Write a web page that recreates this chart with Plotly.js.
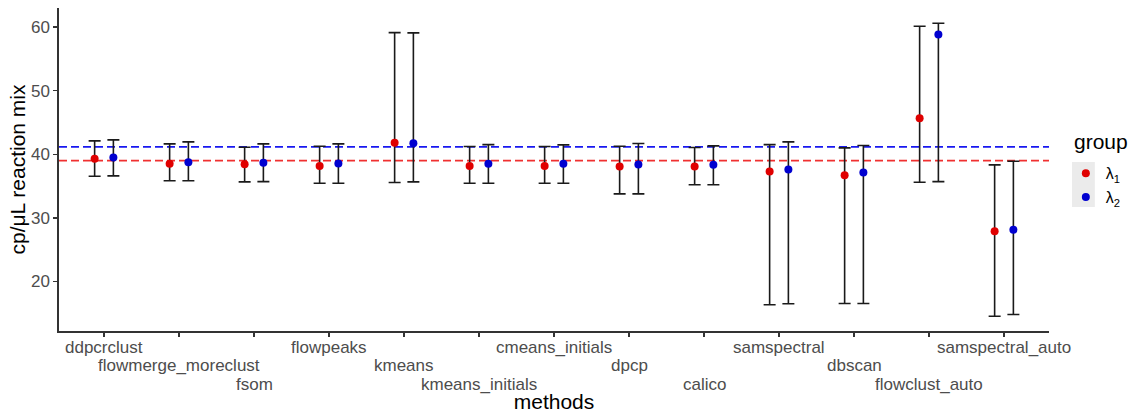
<!DOCTYPE html>
<html>
<head>
<meta charset="utf-8">
<script src="https://cdn.plot.ly/plotly-3.0.1.min.js"></script>
<style>html,body{margin:0;padding:0;background:#fff;}#chart{width:1134px;height:415px;}</style>
</head>
<body>
<div id="chart"></div>
<script>
const methods = ["ddpcrclust","flowmerge_moreclust","fsom","flowpeaks","kmeans","kmeans_initials","cmeans_initials","dpcp","calico","samspectral","dbscan","flowclust_auto","samspectral_auto"];
const lambda1 = [39.28, 38.49, 38.43, 38.17, 41.79, 38.17, 38.17, 38.07, 38.07, 37.28, 36.70, 45.66, 27.90];
const lambda1Upper = [42.10, 41.63, 41.10, 41.26, 59.13, 41.21, 41.21, 41.26, 41.05, 41.52, 41.00, 60.13, 38.33];
const lambda1Lower = [36.54, 35.82, 35.66, 35.44, 35.55, 35.44, 35.44, 33.77, 35.19, 16.32, 16.53, 35.60, 14.53];
const lambda2 = [39.48, 38.74, 38.65, 38.54, 41.73, 38.49, 38.49, 38.38, 38.33, 37.60, 37.12, 58.82, 28.11];
const lambda2Upper = [42.26, 41.95, 41.63, 41.63, 59.08, 41.52, 41.48, 41.68, 41.32, 41.95, 41.37, 60.60, 38.90];
const lambda2Lower = [36.60, 35.82, 35.70, 35.44, 35.66, 35.44, 35.44, 33.77, 35.19, 16.48, 16.53, 35.70, 14.80];
const refLines = [39.0, 41.16];           // λ1 reference, λ2 reference
const groupNames = ["λ<sub>1</sub>", "λ<sub>2</sub>"];
const groupColors = ["#e00000", "#0000d0"];
const refColors = ["#f03030", "#1818f0"];
const yTicks = [20, 30, 40, 50, 60];
const legendTitle = "group";

const FONT = "Liberation Sans, Arial, Helvetica, sans-serif";
const dodge = 0.125;
const idx = methods.map((m, i) => i + 1);

function mk(vals, up, lo, k) {
  return {
    type: "scatter", mode: "markers", name: groupNames[k],
    x: idx.map(v => v + (k === 0 ? -dodge : dodge)),
    y: vals,
    marker: {color: groupColors[k], size: 8},
    error_y: {type: "data", symmetric: false,
      array: vals.map((v, i) => up[i] - v),
      arrayminus: vals.map((v, i) => v - lo[i]),
      color: "#1a1a1a", thickness: 1.6, width: 6},
    hoverinfo: "x+y"
  };
}
const traces = [mk(lambda1, lambda1Upper, lambda1Lower, 0), mk(lambda2, lambda2Upper, lambda2Lower, 1)];

const rowShift = [-16, -34, -53];
const annotations = methods.map((m, i) => ({
  x: i + 1, xref: "x", y: 0, yref: "paper", yanchor: "middle", xanchor: "center",
  yshift: rowShift[i % 3], text: m, showarrow: false,
  font: {family: FONT, size: 17, color: "#4d4d4d"}
}));
annotations.push({
  x: 1.0232, xref: "paper", xanchor: "left", y: 0.586, yref: "paper", yanchor: "middle",
  text: legendTitle, showarrow: false, font: {family: FONT, size: 21, color: "#000"}
});

const shapes = refLines.map((v, k) => ({
  type: "line", xref: "paper", x0: 0, x1: 1, yref: "y", y0: v, y1: v,
  line: {color: refColors[k], width: 1.6, dash: "8px,4px"}, layer: "below"
}));
shapes.push({type: "rect", xref: "paper", yref: "paper", x0: 1.0232, x1: 1.0463, y0: 0.384, y1: 0.523,
  fillcolor: "#ebebeb", line: {width: 0}, layer: "below"});

const layout = {
  width: 1134, height: 415,
  margin: {l: 59, r: 82, t: 8, b: 84},
  paper_bgcolor: "#fff", plot_bgcolor: "#fff",
  font: {family: FONT, color: "#000"},
  showlegend: true,
  xaxis: {
    range: [0.4, 13.6], tickvals: idx, showticklabels: false,
    showgrid: false, zeroline: false, showline: true, linecolor: "#333", linewidth: 1.6,
    ticks: "outside", ticklen: 4, tickcolor: "#333", tickwidth: 1.4,
    title: {text: "methods", font: {family: FONT, size: 21, color: "#000"}, standoff: 58},
    automargin: false
  },
  yaxis: {
    range: [12.2, 63.0], tickvals: yTicks,
    showgrid: false, zeroline: false, showline: true, linecolor: "#333", linewidth: 1.6,
    ticks: "outside", ticklen: 4, tickcolor: "#333", tickwidth: 1.4,
    tickfont: {family: FONT, size: 17, color: "#4d4d4d"},
    title: {text: "cp/μL reaction mix", font: {family: FONT, size: 21, color: "#000"}, standoff: 0},
    automargin: false
  },
  legend: {
    x: 1.017, xanchor: "left", y: 0.541, yanchor: "top",
    font: {family: FONT, size: 16, color: "#000"},
    bgcolor: "rgba(0,0,0,0)", tracegroupgap: 0
  },
  annotations: annotations,
  shapes: shapes
};
Plotly.newPlot("chart", traces, layout, {displayModeBar: false, staticPlot: true});
</script>
</body>
</html>
